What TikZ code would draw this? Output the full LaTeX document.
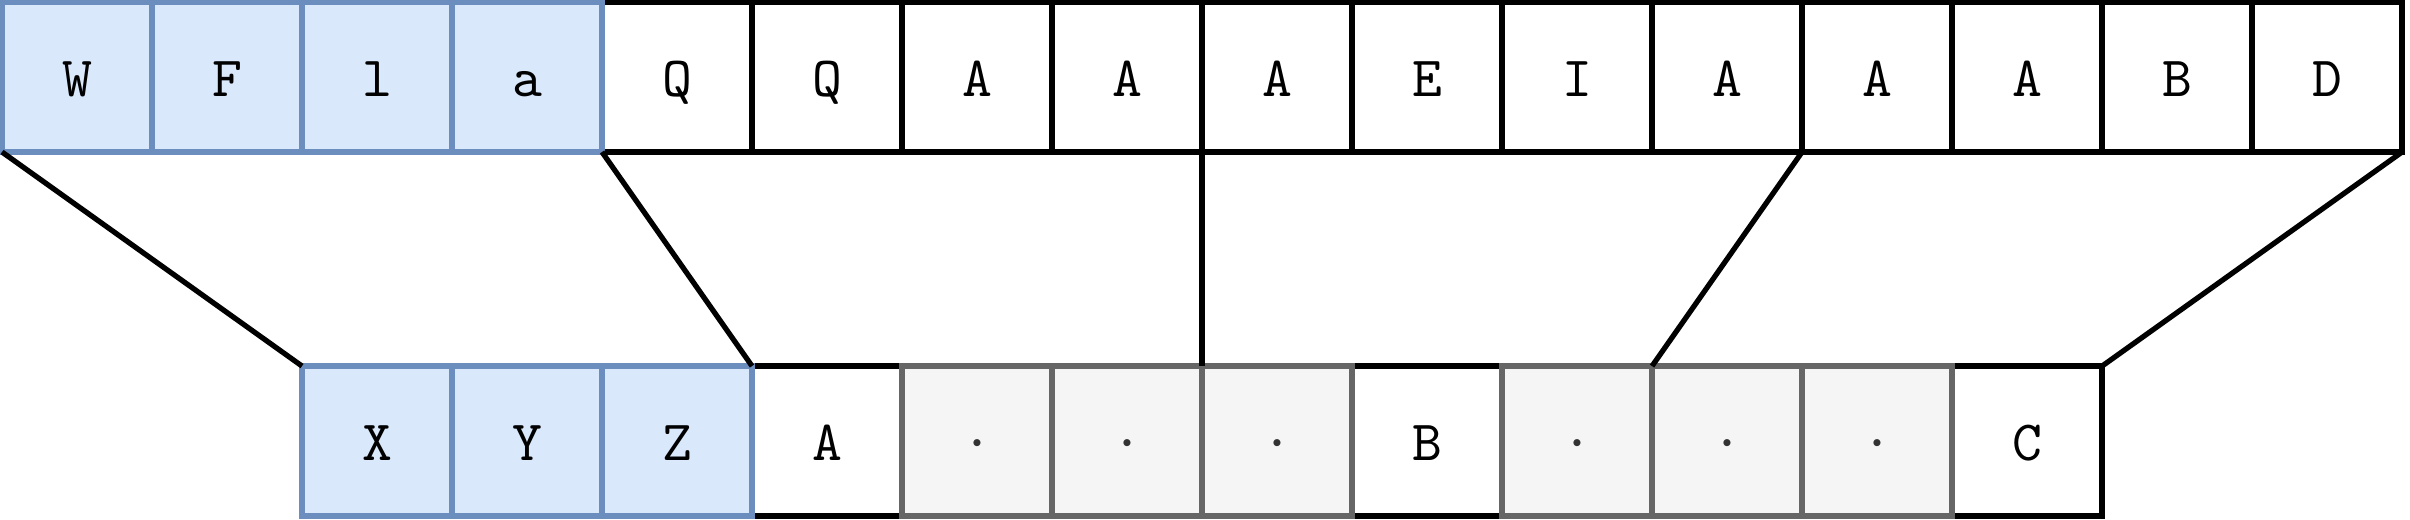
\documentclass[tikz,border=0pt]{standalone}
\usepackage{fontspec}
\usepackage{tikz}
\definecolor{bluefill}{HTML}{DAE8FC}
\definecolor{blueedge}{HTML}{6C8EBF}
\definecolor{grayfill}{HTML}{F5F5F5}
\definecolor{grayedge}{HTML}{666666}
\definecolor{dotcolor}{HTML}{333333}
\tikzset{cell/.style={rectangle,draw=black,fill=white,line width=1pt,minimum width=1cm,minimum height=1cm,inner sep=0pt,outer sep=0pt,text height=0.254cm,text depth=0cm,font=\ttfamily\fontsize{10.8pt}{13pt}\selectfont}}
\tikzset{bluecell/.style={cell,draw=blueedge,fill=bluefill}}
\tikzset{graycell/.style={cell,draw=grayedge,fill=grayfill,text=dotcolor}}
\tikzset{link/.style={line width=1pt,draw=black}}
\newcommand*{\RowGap}{2.927}

\begin{document}
\begin{tikzpicture}
\useasboundingbox (-0.0133,0.0133) rectangle (16.053,-3.453);

\foreach \txt [count=\i from 4] in {Q,Q,A,A,A,E,I,A,A,A,B,D} {%
    \node[cell] (t\i) at (\i+0.5,-0.5) {\txt};
}
\foreach \txt [count=\i from 0] in {W,F,l,a} {%
    \node[bluecell] (t\i) at (\i+0.5,-0.5) {\txt};
}

\foreach \j/\txt in {3/A,7/B,11/C} {%
    \node[cell] (b\j) at (\j+2.5,-\RowGap) {\txt};
}
\foreach \j in {4,5,6,8,9,10} {%
    \node[graycell] (b\j) at (\j+2.5,-\RowGap) {·};
}
\foreach \txt [count=\j from 0] in {X,Y,Z} {%
    \node[bluecell] (b\j) at (\j+2.5,-\RowGap) {\txt};
}

\draw[link] (t0.south west) -- (b0.north west);
\draw[link] (t3.south east) -- (b2.north east);
\draw[link] (t7.south east) -- (b5.north east);
\draw[link] (t11.south east) -- (b8.north east);
\draw[link] (t15.south east) -- (b11.north east);

\end{tikzpicture}
\end{document}
